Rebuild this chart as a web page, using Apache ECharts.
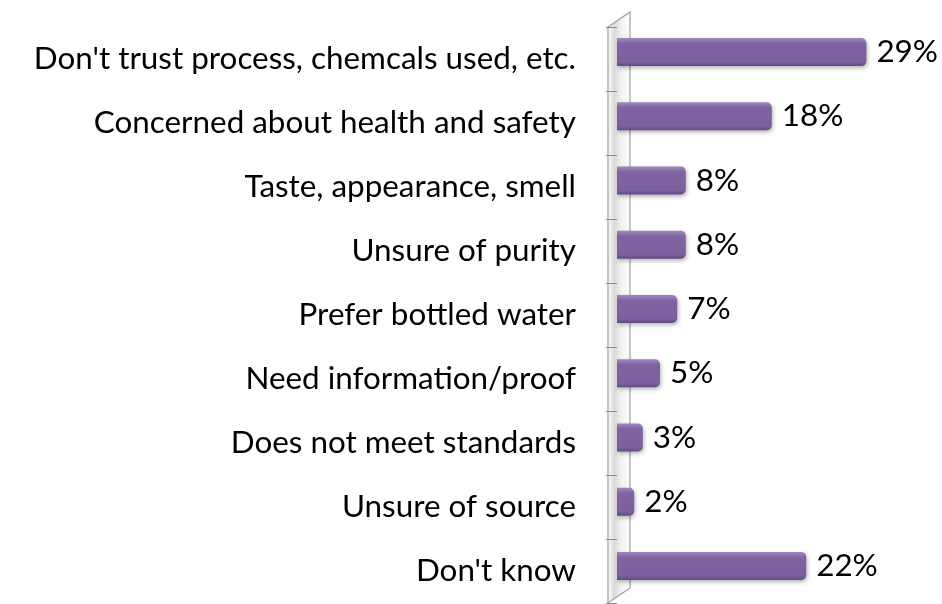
<!DOCTYPE html>
<html>
<head>
<meta charset="utf-8">
<script src="https://cdn.jsdelivr.net/npm/echarts@6/dist/echarts.min.js"></script>
<style>
html,body{margin:0;padding:0;background:#fff;}
#chart{width:942px;height:604px;}
</style>
</head>
<body>
<div id="chart"></div>
<script>
const categories = [
  "Don't trust process, chemcals used, etc.",
  "Concerned about health and safety",
  "Taste, appearance, smell",
  "Unsure of purity",
  "Prefer bottled water",
  "Need information/proof",
  "Does not meet standards",
  "Unsure of source",
  "Don't know"
];
const values = [29, 18, 8, 8, 7, 5, 3, 2, 22];

const FONT = 'Lato';
const axisX = 608, backX = 630, wallTop = 27, wallBottom = 603, depth = 15;

const chart = echarts.init(document.getElementById('chart'), null, {renderer: 'canvas'});
chart.setOption({
  animation: false,
  backgroundColor: '#ffffff',
  grid: [
    {left: 617, top: 27, height: 576, right: 24},
    {left: 617, top: 20, height: 578, right: 24}
  ],
  xAxis: [
    {gridIndex: 0, type: 'value', min: 0, max: 35, show: false},
    {gridIndex: 1, type: 'value', min: 0, max: 35, show: false}
  ],
  yAxis: [
    {
      gridIndex: 0, type: 'category', data: categories, inverse: true, offset: 9,
      axisLine: {show: false},
      axisTick: {show: true, length: 11, lineStyle: {color: '#8c8c8c', width: 1}},
      axisLabel: {fontFamily: FONT, fontSize: 31.4, color: '#000', margin: 32, padding: [4,0,0,0]},
      splitLine: {show: false}
    },
    {
      gridIndex: 1, type: 'category', data: categories, inverse: true, show: false
    }
  ],
  graphic: [
    {
      type: 'polygon', z: 0, silent: true,
      shape: {points: [[axisX, wallTop], [backX, wallTop - depth], [backX, wallBottom - depth], [axisX, wallBottom]]},
      style: {
        fill: new echarts.graphic.LinearGradient(0, 0, 1, 0, [
          {offset: 0, color: '#ffffff'},
          {offset: 0.3, color: '#dadada'},
          {offset: 0.6, color: '#f2f2f2'},
          {offset: 1, color: '#ffffff'}
        ]),
        stroke: '#a0a0a0', lineWidth: 1.2
      }
    }
  ],
  series: [{
    type: 'bar',
    xAxisIndex: 1, yAxisIndex: 1,
    data: values,
    barWidth: 28,
    z: 5,
    itemStyle: {
      color: new echarts.graphic.LinearGradient(0, 0, 0, 1, [
        {offset: 0, color: '#9c88ba'},
        {offset: 0.12, color: '#8d74ae'},
        {offset: 0.18, color: '#8064a2'},
        {offset: 0.85, color: '#7c609e'},
        {offset: 1, color: '#634b82'}
      ]),
      borderRadius: [0, 5, 5, 0],
      shadowColor: 'rgba(0,0,0,0.3)', shadowBlur: 4, shadowOffsetX: 1, shadowOffsetY: 2
    },
    label: {
      show: true, position: 'right', distance: 10,
      formatter: p => p.value + '%',
      fontFamily: FONT, fontSize: 31.4, color: '#000', padding: [8,0,0,0]
    }
  }]
});
</script>
</body>
</html>
